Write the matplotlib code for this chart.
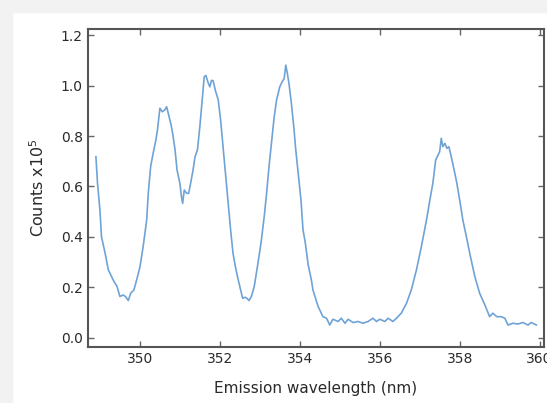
import matplotlib
matplotlib.use("Agg")
from matplotlib import pyplot as plt
from matplotlib.patches import Rectangle

# emission spectrum (nm, counts x1e5)
wavelength = [
    348.90, 348.94, 349.00, 349.04, 349.13, 349.21, 349.33, 349.43, 349.50, 349.58,
    349.64, 349.71, 349.77, 349.85, 349.92, 350.00, 350.08, 350.17, 350.21, 350.27,
    350.33, 350.40, 350.44, 350.50, 350.56, 350.62, 350.67, 350.71, 350.78, 350.82,
    350.88, 350.93, 351.00, 351.04, 351.07, 351.11, 351.17, 351.22, 351.27, 351.33,
    351.38, 351.44, 351.50, 351.56, 351.61, 351.65, 351.71, 351.75, 351.79, 351.83,
    351.89, 351.96, 352.02, 352.08, 352.14, 352.21, 352.27, 352.33, 352.39, 352.46,
    352.52, 352.57, 352.63, 352.68, 352.73, 352.79, 352.86, 352.94, 353.03, 353.11,
    353.17, 353.23, 353.29, 353.36, 353.42, 353.50, 353.56, 353.61, 353.65, 353.69,
    353.73, 353.79, 353.85, 353.90, 353.96, 354.03, 354.08, 354.14, 354.21, 354.29,
    354.33, 354.46, 354.58, 354.67, 354.75, 354.83, 354.96, 355.04, 355.13, 355.21,
    355.33, 355.46, 355.58, 355.71, 355.83, 355.92, 356.00, 356.13, 356.21, 356.33,
    356.42, 356.54, 356.67, 356.79, 356.92, 357.04, 357.17, 357.27, 357.33, 357.40,
    357.46, 357.50, 357.54, 357.58, 357.63, 357.68, 357.73, 357.79, 357.88, 357.93,
    358.00, 358.08, 358.17, 358.27, 358.38, 358.50, 358.63, 358.75, 358.83, 358.93,
    359.04, 359.13, 359.21, 359.33, 359.46, 359.58, 359.71, 359.79, 359.92,
]
counts = [
    0.718, 0.613, 0.507, 0.400, 0.336, 0.270, 0.230, 0.203, 0.164, 0.170,
    0.164, 0.148, 0.177, 0.190, 0.230, 0.280, 0.360, 0.467, 0.573, 0.680,
    0.730, 0.784, 0.824, 0.910, 0.896, 0.903, 0.916, 0.890, 0.844, 0.810,
    0.745, 0.665, 0.613, 0.560, 0.533, 0.586, 0.573, 0.573, 0.613, 0.665,
    0.718, 0.745, 0.837, 0.943, 1.035, 1.040, 1.010, 0.995, 1.020, 1.020,
    0.980, 0.943, 0.863, 0.758, 0.652, 0.533, 0.428, 0.335, 0.282, 0.230,
    0.190, 0.157, 0.161, 0.157, 0.148, 0.164, 0.203, 0.282, 0.375, 0.480,
    0.573, 0.678, 0.771, 0.876, 0.943, 0.995, 1.015, 1.028, 1.081, 1.048,
    1.008, 0.930, 0.837, 0.745, 0.652, 0.547, 0.430, 0.375, 0.290, 0.230,
    0.190, 0.124, 0.084, 0.078, 0.051, 0.074, 0.065, 0.078, 0.058, 0.074,
    0.061, 0.065, 0.058, 0.065, 0.078, 0.065, 0.074, 0.065, 0.078, 0.065,
    0.078, 0.098, 0.137, 0.190, 0.270, 0.360, 0.467, 0.560, 0.613, 0.705,
    0.725, 0.738, 0.791, 0.758, 0.771, 0.751, 0.758, 0.718, 0.652, 0.613,
    0.547, 0.467, 0.400, 0.322, 0.243, 0.177, 0.131, 0.084, 0.098, 0.084,
    0.084, 0.078, 0.051, 0.058, 0.055, 0.061, 0.051, 0.061, 0.051,
]
xticks = [350, 352, 354, 356, 358, 360]
yticks = [0.0, 0.2, 0.4, 0.6, 0.8, 1.0, 1.2]

fig = plt.figure(figsize=(5.47, 4.03), dpi=100)
fig.patch.set_facecolor("white")
# light grey frame along top and left edge
fig.patches.append(Rectangle((0, 1 - 12 / 403), 1, 12 / 403, transform=fig.transFigure,
                             color="#f2f2f2", zorder=0))
fig.patches.append(Rectangle((0, 0), 12 / 547, 1, transform=fig.transFigure,
                             color="#f2f2f2", zorder=0))

ax = fig.add_axes([0.16, 0.139, 0.8345, 0.789])
ax.plot(wavelength, counts, color="#6f a3d6".replace(" ", ""), lw=1.2)

ax.set_xlim(348.69, 360.11)
ax.set_ylim(-0.036, 1.224)
ax.set_xticks(xticks)
ax.set_yticks(yticks)
ax.set_yticklabels(["%.1f" % v for v in yticks])

for s in ax.spines.values():
    s.set_color("#555555")
    s.set_linewidth(1.5)
ax.tick_params(direction="in", top=True, right=True, length=4, width=1,
               color="#666666", labelsize=10, labelcolor="#2a2a2a")

ax.set_xlabel("Emission wavelength (nm)", fontsize=11, color="#2a2a2a", labelpad=11)
ax.set_ylabel("Counts x10$^5$", fontsize=11.5, color="#2a2a2a", labelpad=10)

fig.savefig("out.png", dpi=100)
